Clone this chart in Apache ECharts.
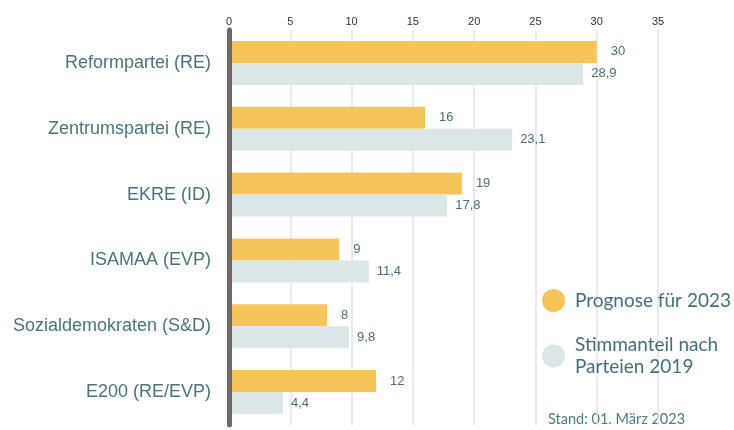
<!DOCTYPE html>
<html>
	<head>
		<meta charset="utf-8">
		<title>Prognose 2023</title>
		<style type="text/css">
			html, body {
				margin: 0;
				padding: 0;
				background: #fff;
			}

			#chart {
				width: 734px;
				height: 430px;
			}
		</style>
	</head>
	<body>
		<div id="chart"></div>

		<script src="https://cdn.jsdelivr.net/npm/echarts@6/dist/echarts.min.js"></script>
		<script>
			// Daten
			var parteien = ['Reformpartei (RE)', 'Zentrumspartei (RE)', 'EKRE (ID)', 'ISAMAA (EVP)', 'Sozialdemokraten (S&D)', 'E200 (RE/EVP)'];
			var prognose2023 = [30, 16, 19, 9, 8, 12];
			var stimmanteil2019 = [28.9, 23.1, 17.8, 11.4, 9.8, 4.4];
			var xTicks = [0, 5, 10, 15, 20, 25, 30, 35];

			var myChart = echarts.init(document.getElementById('chart'));

			function komma(p) {
				return String(p.value).replace('.', ',');
			}

			var option = {
				backgroundColor: '#fff',
				animation: false,
				color: ['#F5C55B', '#DAE7E6'],
				grid: {
					left: 229,
					right: 76,
					top: 30,
					bottom: 5
				},
				legend: {
					orient: 'vertical',
					left: 537,
					top: 284,
					icon: 'circle',
					itemWidth: 23,
					itemHeight: 23,
					itemGap: 22,
					textStyle: {
						fontFamily: 'Lato',
						fontSize: 19,
						color: '#467078',
						lineHeight: 22,
						padding: [0, 0, 0, 5]
					},
					data: ['Prognose für 2023', 'Stimmanteil nach\nParteien 2019']
				},
				graphic: [{
					type: 'text',
					left: 548,
					top: 412,
					style: {
						text: 'Stand: 01. März 2023',
						fontFamily: 'Lato',
						fontSize: 14.5,
						fill: '#4f7b82'
					}
				}],
				xAxis: {
					type: 'value',
					position: 'top',
					min: xTicks[0],
					max: xTicks[xTicks.length - 1],
					interval: 5,
					axisLine: { show: false },
					axisTick: { show: false },
					axisLabel: {
						margin: 3,
						fontFamily: 'Liberation Sans',
						fontSize: 11,
						color: '#333'
					},
					splitLine: {
						lineStyle: { color: '#e3e3e3', width: 1.5 }
					}
				},
				yAxis: {
					type: 'category',
					inverse: true,
					data: parteien,
					offset: 4,
					z: 5,
					axisTick: { show: false },
					axisLine: {
						lineStyle: { color: '#706868', width: 5 }
					},
					axisLabel: {
						margin: 14,
						fontFamily: 'Liberation Sans',
						fontSize: 18,
						color: '#4b7479'
					}
				},
				series: [{
					name: 'Prognose für 2023',
					type: 'bar',
					data: prognose2023,
					barWidth: 22,
					barGap: '0%',
					label: {
						show: true,
						position: 'right',
						distance: 14,
						formatter: komma,
						fontFamily: 'Liberation Sans',
						fontSize: 13,
						color: '#4b6e7a'
					}
				}, {
					name: 'Stimmanteil nach\nParteien 2019',
					type: 'bar',
					data: stimmanteil2019,
					barWidth: 22,
					label: {
						show: true,
						position: 'right',
						distance: 8,
						formatter: komma,
						fontFamily: 'Liberation Sans',
						fontSize: 13,
						color: '#4b6e7a'
					}
				}]
			};

			myChart.setOption(option);
		</script>
	</body>
</html>
